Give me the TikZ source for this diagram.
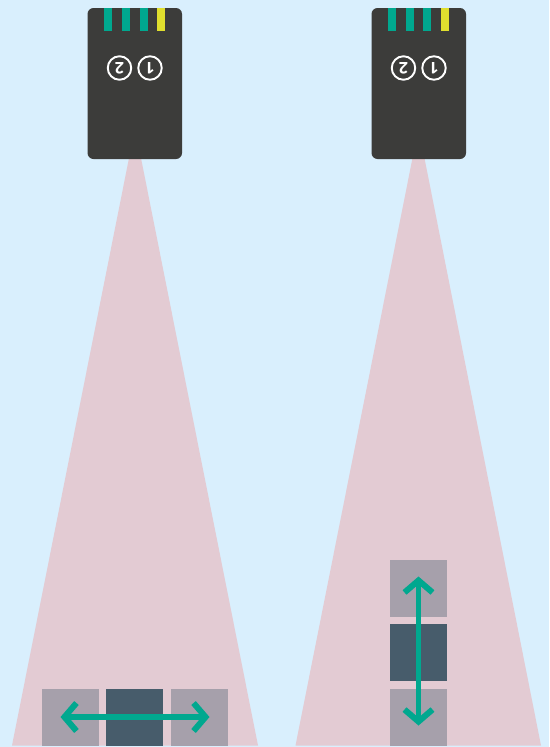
\documentclass[tikz,border=0pt]{standalone}
\usepackage{fontspec}
\setmainfont{Open Sans}
\usetikzlibrary{arrows.meta}
\definecolor{bgc}{HTML}{D9EFFD}
\definecolor{beamc}{HTML}{E3CBD3}
\definecolor{bodyc}{HTML}{3C3C3A}
\definecolor{tealc}{HTML}{00A88F}
\definecolor{yelc}{HTML}{E0DF2E}
\definecolor{greyc}{HTML}{A6A0AB}
\definecolor{darkc}{HTML}{475C6B}
\tikzset{
  x=1pt,y=-1pt,
  bodybox/.style={fill=bodyc,draw=none,rounded corners=6pt,minimum width=94.5pt,minimum height=151pt,inner sep=0pt},
  stripe/.style={draw=none,inner sep=0pt,minimum width=8pt,minimum height=23pt},
  num/.style={circle,draw=white,line width=1.9pt,minimum size=23.5pt,inner sep=0pt,text=white,rotate=180,font=\bfseries\fontsize{16}{16}\selectfont},
  sqgrey/.style={fill=greyc,draw=none,minimum size=57pt,inner sep=0pt},
  sqdark/.style={fill=darkc,draw=none,minimum size=57pt,inner sep=0pt},
  beam/.style={fill=beamc,draw=none},
  dbl/.style={draw=tealc,line width=5.5pt,{Straight Barb[length=12pt,width=28pt,line width=6pt]}-{Straight Barb[length=12pt,width=28pt,line width=6pt]},shorten <=0pt,shorten >=0pt}
}
\begin{document}
\begin{tikzpicture}
\useasboundingbox (0,0) rectangle (549,747);
\fill[bgc] (0,0) rectangle (549,747);
% beams
\fill[beam] (135,128) -- (258,745.5) -- (12,745.5) -- cycle;
\fill[beam] (418.5,128) -- (541,745.5) -- (295.5,745.5) -- cycle;
% sensor left
\node[bodybox] (bodyA) at (134.75,83.5) {};
\node[stripe,fill=tealc] (a1) at (108,19.5) {};
\node[stripe,fill=tealc] (a2) at (126,19.5) {};
\node[stripe,fill=tealc] (a3) at (144,19.5) {};
\node[stripe,fill=yelc] (a4) at (161,19.5) {};
\node[num] (a5) at (119.5,68) {2};
\node[num] (a6) at (150,68) {1};
% sensor right
\node[bodybox] (bodyB) at (418.75,83.5) {};
\node[stripe,fill=tealc] (b1) at (392,19.5) {};
\node[stripe,fill=tealc] (b2) at (410,19.5) {};
\node[stripe,fill=tealc] (b3) at (427,19.5) {};
\node[stripe,fill=yelc] (b4) at (445,19.5) {};
\node[num] (b5) at (403.5,68) {2};
\node[num] (b6) at (434,68) {1};
% squares left
\node[sqgrey] (l1) at (70.5,717.5) {};
\node[sqdark] (l2) at (134.5,717.5) {};
\node[sqgrey] (l3) at (199.5,717.5) {};
% squares right
\node[sqgrey] (r1) at (418.5,588.5) {};
\node[sqdark] (r2) at (418.5,652.5) {};
\node[sqgrey] (r3) at (418.5,717.5) {};
% arrows
\coordinate (la) at (60.5,717);
\coordinate (lb) at (209.5,717);
\coordinate (ra) at (418.5,576.5);
\coordinate (rb) at (418.5,725.5);
\draw[dbl] (la) -- (lb);
\draw[dbl] (ra) -- (rb);
\end{tikzpicture}
\end{document}
